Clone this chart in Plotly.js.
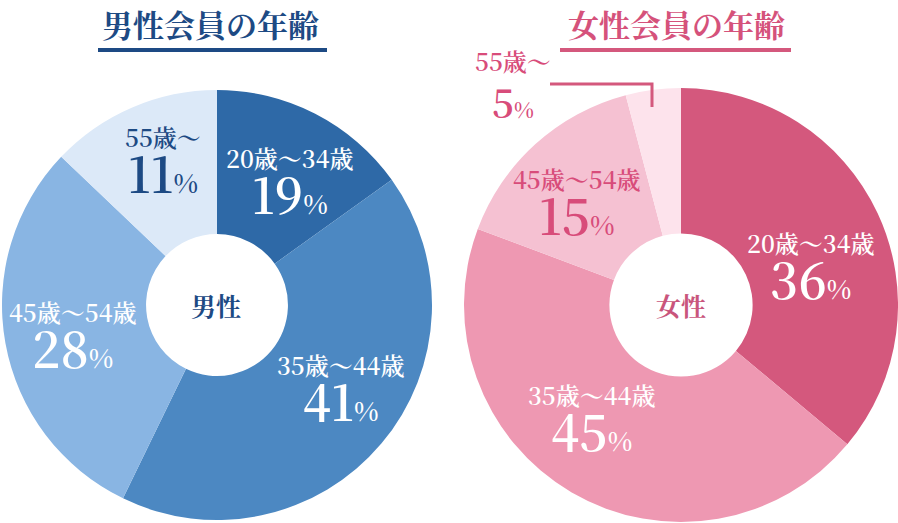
<!DOCTYPE html>
<html>
<head>
<meta charset="utf-8">
<script src="https://cdn.plot.ly/plotly-3.0.1.min.js"></script>
<style>
html,body{margin:0;padding:0;background:#fff;}
#chart{width:898px;height:523px;}
</style>
</head>
<body>
<div id="chart"></div>
<script>
// ---- data ----
const ageGroups = ["20歳～34歳", "35歳～44歳", "45歳～54歳", "55歳～"];
const malePct = [19, 41, 28, 11];          // printed percentages
const femalePct = [36, 45, 15, 5];
const maleSliceShare = [15.1, 42.1, 29.9, 12.9];   // slice sizes as drawn
const femaleSliceShare = [36.1, 44.6, 15.2, 4.1];
const maleTitle = "男性会員の年齢";
const femaleTitle = "女性会員の年齢";
const maleCenter = "男性";
const femaleCenter = "女性";

// ---- styles ----
const W = 898, H = 523;
const px = x => x / W;
const py = y => 1 - y / H;
const SERIF = "'Noto Serif CJK JP', 'Liberation Serif', 'Noto Sans CJK JP', serif";
const maleColors = ["#2e69a7", "#4c88c2", "#89b5e3", "#dce9f8"];
const femaleColors = ["#d4587d", "#ee98b2", "#f5c1d2", "#fde3ec"];
const navy = "#1d4a84";
const pink = "#d5527b";

const traces = [
  {
    type: "pie", values: maleSliceShare, labels: ageGroups, sort: false,
    direction: "clockwise", rotation: 0, hole: 0.33,
    marker: {colors: maleColors, line: {width: 0}},
    textinfo: "none", hoverinfo: "skip", showlegend: false,
    domain: {x: [px(2), px(432)], y: [py(520), py(90)]}
  },
  {
    type: "pie", values: femaleSliceShare, labels: ageGroups, sort: false,
    direction: "clockwise", rotation: 0, hole: 0.33,
    marker: {colors: femaleColors, line: {width: 0}},
    textinfo: "none", hoverinfo: "skip", showlegend: false,
    domain: {x: [px(464), px(898)], y: [py(522), py(88)]}
  }
];

function blockText(label, v, labelSize, big, small) {
  return "<span style='font-size:" + labelSize + "px'>" + label + "</span><br>" +
         "<span style='font-size:" + big + "px'>" + v + "</span>" +
         "<span style='font-size:" + small + "px'>%</span>";
}

const labelSpecs = [
  // male
  {g: 0, pct: malePct[0], x: 290, y: 184, c: "#ffffff", big: 49, base: 35},
  {g: 1, pct: malePct[1], x: 340, y: 391, c: "#ffffff", big: 49, base: 35},
  {g: 2, pct: malePct[2], x: 73, y: 338, c: "#ffffff", big: 49, base: 35},
  {g: 3, pct: malePct[3], x: 163, y: 163, c: navy, big: 49, base: 35},
  // female
  {g: 0, pct: femalePct[0], x: 811, y: 269, c: "#ffffff", big: 49, base: 35},
  {g: 1, pct: femalePct[1], x: 591, y: 421, c: "#ffffff", big: 49, base: 35},
  {g: 2, pct: femalePct[2], x: 577, y: 205, c: "#d84c7a", big: 49, base: 35},
  {g: 3, pct: femalePct[3], x: 513, y: 86, c: "#d84c7a", big: 38, base: 36}
];

const annotations = [];
labelSpecs.forEach(s => {
  annotations.push({
    xref: "paper", yref: "paper", x: px(s.x), y: py(s.y),
    xanchor: "center", yanchor: "middle", showarrow: false, align: "center",
    text: blockText(ageGroups[s.g], s.pct, 24, s.big, Math.round(s.big * 0.54)),
    font: {family: SERIF, size: s.base, color: s.c, weight: 600}
  });
});
annotations.push(
  {xref: "paper", yref: "paper", x: px(210), y: py(23), xanchor: "center", yanchor: "middle",
   showarrow: false, text: maleTitle, font: {family: SERIF, size: 31, color: navy, weight: 700}},
  {xref: "paper", yref: "paper", x: px(676), y: py(23), xanchor: "center", yanchor: "middle",
   showarrow: false, text: femaleTitle, font: {family: SERIF, size: 31, color: pink, weight: 700}},
  {xref: "paper", yref: "paper", x: px(216), y: py(305), xanchor: "center", yanchor: "middle",
   showarrow: false, text: maleCenter, font: {family: SERIF, size: 25, color: navy, weight: 700}},
  {xref: "paper", yref: "paper", x: px(681), y: py(305), xanchor: "center", yanchor: "middle",
   showarrow: false, text: femaleCenter, font: {family: SERIF, size: 25, color: "#c9557c", weight: 700}}
);

const shapes = [
  {type: "rect", xref: "paper", yref: "paper", x0: px(98), x1: px(327), y0: py(52), y1: py(48),
   fillcolor: navy, line: {width: 0}},
  {type: "rect", xref: "paper", yref: "paper", x0: px(560), x1: px(791), y0: py(52), y1: py(48),
   fillcolor: "#d4587d", line: {width: 0}},
  {type: "path", xref: "paper", yref: "paper",
   path: "M " + px(550) + " " + py(84) + " L " + px(652) + " " + py(84) + " L " + px(652) + " " + py(107),
   line: {color: "#d4587d", width: 3}}
];

const layout = {
  width: W, height: H, margin: {l: 0, r: 0, t: 0, b: 0},
  paper_bgcolor: "#ffffff", plot_bgcolor: "#ffffff",
  showlegend: false, annotations: annotations, shapes: shapes
};

Plotly.newPlot("chart", traces, layout, {staticPlot: true, displayModeBar: false});
</script>
</body>
</html>
